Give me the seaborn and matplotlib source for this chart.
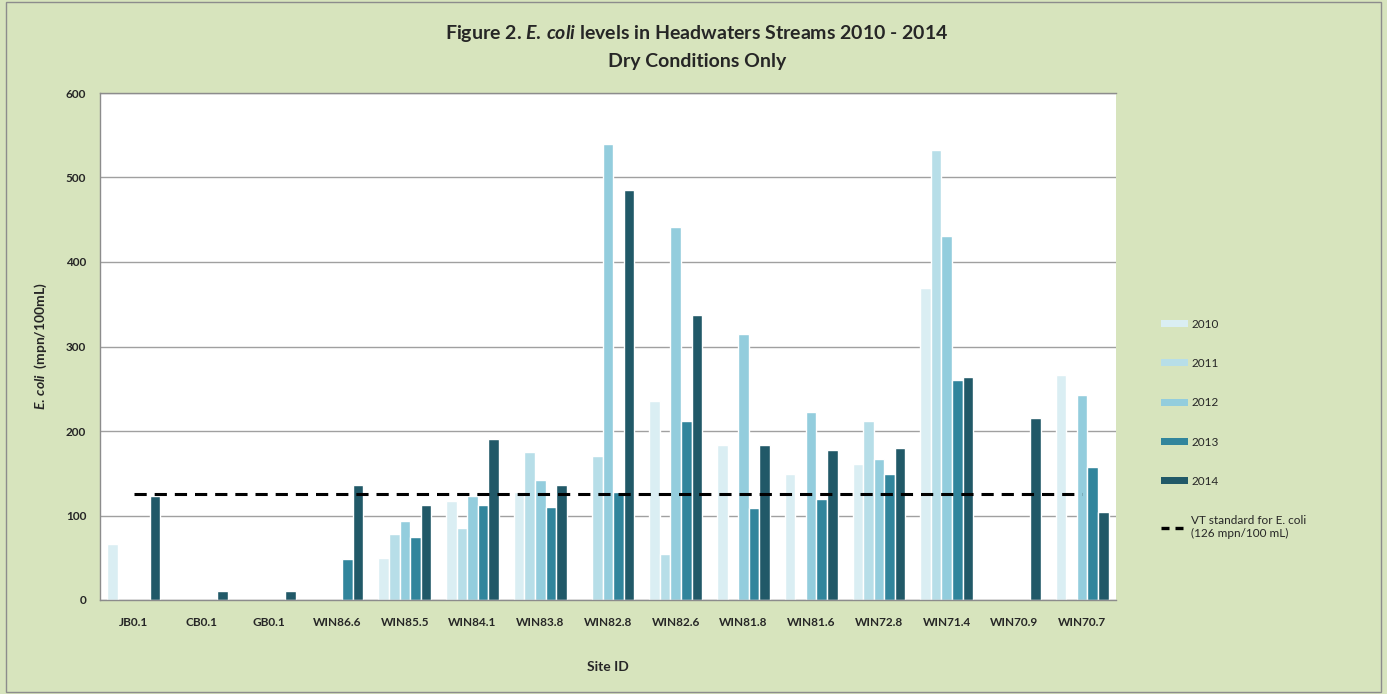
import numpy as np
import pandas as pd
import matplotlib
matplotlib.use("Agg")
import matplotlib.pyplot as plt
from matplotlib.patches import Patch, Rectangle
from matplotlib.lines import Line2D
import seaborn as sns

sites = ["JB0.1", "CB0.1", "GB0.1", "WIN86.6", "WIN85.5", "WIN84.1", "WIN83.8",
         "WIN82.8", "WIN82.6", "WIN81.8", "WIN81.6", "WIN72.8", "WIN71.4",
         "WIN70.9", "WIN70.7"]
years = ["2010", "2011", "2012", "2013", "2014"]
nan = np.nan
ecoli_2010 = [66, nan, nan, nan, 50, 117, 128, nan, 236, 184, 149, 161, 369, nan, 266]
ecoli_2011 = [nan, nan, nan, nan, 78, 85, 175, 170, 55, nan, nan, 212, 532, nan, nan]
ecoli_2012 = [nan, nan, nan, nan, 93, 123, 142, 540, 442, 315, 222, 167, 431, nan, 243]
ecoli_2013 = [nan, nan, nan, 48, 74, 112, 110, 128, 212, 109, 119, 149, 260, nan, 157]
ecoli_2014 = [123, 11, 11, 136, 112, 190, 136, 485, 337, 183, 178, 180, 264, 215, 104]
vt_standard = [126] * len(sites)

colors = ["#DAEEF3", "#B7DEE8", "#93CDDD", "#31859C", "#215968"]
bg = "#D7E4BD"

df = pd.DataFrame({
    "site": sites * 5,
    "year": [y for y in years for _ in sites],
    "value": ecoli_2010 + ecoli_2011 + ecoli_2012 + ecoli_2013 + ecoli_2014,
}).dropna()

sns.set_style("white")
plt.rcParams["font.family"] = ["Lato", "DejaVu Sans"]
plt.rcParams["mathtext.fontset"] = "custom"
plt.rcParams["mathtext.it"] = "Lato:italic:bold"
plt.rcParams["mathtext.rm"] = "Lato:bold"

fig = plt.figure(figsize=(13.87, 6.94), dpi=100, facecolor=bg)
ax = fig.add_axes([100 / 1387, 94 / 694, 1016 / 1387, 507 / 694])
ax.set_facecolor("white")

sns.barplot(data=df, x="site", y="value", hue="year", order=sites, hue_order=years,
            palette=colors, width=0.78, saturation=1, ax=ax, legend=False)
ax.plot(range(len(sites)), vt_standard, color="black", lw=2.2,
        linestyle=(0, (4.0, 2.6)), zorder=5)

ax.set_ylim(0, 600)
ax.set_xlim(-0.5, len(sites) - 0.5)
ax.set_yticks(range(0, 601, 100))
ax.yaxis.grid(True, color="#A0A0A0", lw=1)
ax.set_axisbelow(True)
for s in ["left", "bottom", "top"]:
    ax.spines[s].set_color("#8C8C8C")
    ax.spines[s].set_linewidth(1)
ax.spines["right"].set_visible(False)

ax.set_xticks(np.arange(len(sites)))
ax.set_xticklabels(sites, fontsize=8.5, fontweight="bold")
ax.set_xticks(np.arange(-0.5, len(sites), 1), minor=True)
ax.tick_params(axis="x", which="major", length=0, pad=12)
ax.tick_params(axis="x", which="minor", length=4, color="#8C8C8C", direction="out")
ax.tick_params(axis="y", length=4, color="#8C8C8C", direction="out", labelsize=8.5, pad=6)
for t in ax.get_yticklabels():
    t.set_fontweight("bold")

ax.set_xlabel("Site ID", fontsize=10, fontweight="bold", labelpad=24)
ax.set_ylabel(r"$\mathit{E.\,coli}$  (mpn/100mL)", fontsize=10, fontweight="bold", labelpad=12)

fig.text(0.5025, 1 - 34 / 694, r"Figure 2. $\mathit{E.\,coli}$ levels in Headwaters Streams 2010 - 2014",
         ha="center", va="center", fontsize=14, fontweight="bold")
fig.text(0.5025, 1 - 61 / 694, "Dry Conditions Only", ha="center", va="center",
         fontsize=14, fontweight="bold")

handles = [Patch(facecolor=c, edgecolor="none") for c in colors]
handles.append(Line2D([], [], color="black", lw=2.4, linestyle=(0, (2.4, 1.8))))
labels = years + ["VT standard for E. coli\n(126 mpn/100 mL)"]
fig.legend(handles, labels, loc="upper left", bbox_to_anchor=(1150 / 1387, 1 - 308 / 694),
           frameon=False, labelspacing=2.4, handlelength=2.3,
           handleheight=0.55, handletextpad=0.3, prop={"size": 8.5})

fig.patches.append(Rectangle((0.004, 0.003), 0.992, 0.994, transform=fig.transFigure,
                             fill=False, edgecolor="#8C8C8C", lw=1))

fig.savefig("out.png", dpi=100, facecolor=bg)
